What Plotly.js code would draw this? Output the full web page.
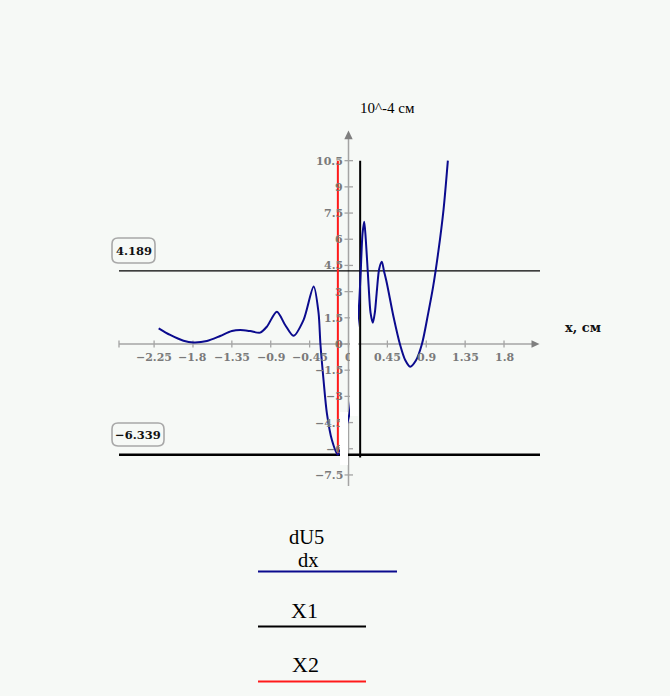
<!DOCTYPE html>
<html>
<head>
<meta charset="utf-8">
<script src="https://cdn.plot.ly/plotly-3.0.1.min.js"></script>
<style>html,body{margin:0;padding:0;background:#f6f9f6;}#chart{width:670px;height:696px;}</style>
</head>
<body>
<div id="chart"></div>
<script>
// ---- data ----
const curveX = [-2.197,-2.064,-1.91,-1.794,-1.639,-1.485,-1.35,-1.253,-1.138,-1.022,-0.944,-0.829,-0.733,-0.637,-0.521,-0.403,-0.347,-0.325,-0.289,-0.25,-0.192,-0.123,-0.09,-0.04,0.012,0.05,0.078,0.116,0.14,0.162,0.182,0.2,0.231,0.255,0.282,0.305,0.329,0.355,0.386,0.41,0.444,0.521,0.598,0.656,0.714,0.78,0.85,0.92,0.98,1.04,1.10,1.15];
const curveY = [0.90,0.52,0.19,0.09,0.17,0.46,0.74,0.80,0.74,0.65,1.0,1.85,1.09,0.47,1.37,3.30,1.8,0.0,-2.06,-3.97,-5.5,-6.339,-6.0,-5.0,-3.97,-2.06,0.0,1.76,4.0,6.3,7.0,6.0,3.48,1.8,1.22,1.8,3.09,4.3,4.71,4.2,3.48,1.56,-0.06,-0.92,-1.30,-0.95,0.0,1.7,3.3,5.3,7.7,10.5];
const x1X = [0.135, 0.135];
const x1Y = [-6.5, 10.5];
const x2X = [-0.123, -0.123];
const x2Y = [-6.339, 10.5];
const markerLevels = [4.189, -6.339];
const xTickVals = [-2.25,-1.8,-1.35,-0.9,-0.45,0,0.45,0.9,1.35,1.8];
const yTickVals = [-7.5,-6,-4.5,-3,-1.5,0,1.5,3,4.5,6,7.5,9,10.5];
const yAxisTitle = "10^-4 см";
const xAxisTitle = "x, см";
const legendNames = ["dU5", "dx", "X1", "X2"];

// ---- geometry ----
const L = 100, R = 560, T = 100, B = 500;
const x0px = 348.5, xScale = 86.4;   // px per unit
const y0px = 344, yScale = 17.46;
const xRange = [(L - x0px) / xScale, (R - x0px) / xScale];
const yRange = [(y0px - B) / yScale, (y0px - T) / yScale];
const dx = p => p / xScale, dy = p => p / yScale;
const px = x => (x - L) / (R - L);
const py = y => (B - y) / (B - T);
const fmt = v => (v < 0 ? "\u2212" : "") + Math.abs(v).toString();

const axisGray = "#a4a4a4", arrowGray = "#7f7f7f", labGray = "#7a7a7a";
const xAxStart = dx(119 - x0px), xAxEnd = dx(532 - x0px), xTip = dx(539.5 - x0px);
const yAxBot = dy(y0px - 486), yAxTop = dy(y0px - 139), yTip = dy(y0px - 130.5);
const hLineX = [dx(119 - x0px), dx(540 - x0px)];

const traces = [
  {x: hLineX, y: [markerLevels[0], markerLevels[0]], mode: "lines", line: {color: "#000", width: 1.2}, hoverinfo: "skip"},
  {x: hLineX, y: [markerLevels[1], markerLevels[1]], mode: "lines", line: {color: "#000", width: 2.4}, hoverinfo: "skip"},
  {x: x2X, y: x2Y, mode: "lines", name: "X2", line: {color: "#ff1a1a", width: 2}},
  {x: x1X, y: x1Y, mode: "lines", name: "X1", line: {color: "#000", width: 2}},
  {x: curveX, y: curveY, mode: "lines", name: "dU5/dx", line: {color: "#0b0b8e", width: 2, shape: "spline", smoothing: 0.8}}
];

const shapes = [];
// axes
shapes.push({type: "line", xref: "x", yref: "y", x0: xAxStart, x1: xAxEnd, y0: 0, y1: 0, line: {color: axisGray, width: 1.5}, layer: "below"});
shapes.push({type: "line", xref: "x", yref: "y", x0: 0, x1: 0, y0: yAxBot, y1: yAxTop, line: {color: axisGray, width: 1.5}, layer: "below"});
shapes.push({type: "path", xref: "x", yref: "y", path: `M ${xTip - dx(8)},${dy(3.8)} L ${xTip},0 L ${xTip - dx(8)},${-dy(3.8)} Z`, fillcolor: arrowGray, line: {width: 0}});
shapes.push({type: "path", xref: "x", yref: "y", path: `M ${-dx(4.2)},${yTip - dy(8.7)} L 0,${yTip} L ${dx(4.2)},${yTip - dy(8.7)} Z`, fillcolor: arrowGray, line: {width: 0}});
// ticks
[xAxStart].concat(xTickVals).forEach(v => shapes.push({type: "line", xref: "x", yref: "y", x0: v, x1: v, y0: -dy(3.5), y1: dy(3.5), line: {color: axisGray, width: 1.3}, layer: "below"}));
yTickVals.forEach(v => shapes.push({type: "line", xref: "x", yref: "y", x0: -dx(4), x1: dx(4.5), y0: v, y1: v, line: {color: axisGray, width: 1.3}, layer: "below"}));
// rounded boxes for marker values
function roundRect(x0, y0, x1, y1, r) {
  const a = px(x0), b = px(x1), c = py(y0), d = py(y1);
  const rx = r / (R - L), ry = r / (B - T);
  return `M ${a + rx},${c} L ${b - rx},${c} Q ${b},${c} ${b},${c - ry} L ${b},${d + ry} Q ${b},${d} ${b - rx},${d} L ${a + rx},${d} Q ${a},${d} ${a},${d + ry} L ${a},${c - ry} Q ${a},${c} ${a + rx},${c} Z`;
}
const boxes = [[112, 238, 155, 263], [112, 423, 164, 446]];
boxes.forEach(bx => shapes.push({type: "path", xref: "paper", yref: "paper", path: roundRect(bx[0], bx[1], bx[2], bx[3], 6), line: {color: "#a8a8a8", width: 1.6}, fillcolor: "rgba(0,0,0,0)"}));
// legend lines
shapes.push({type: "line", xref: "paper", yref: "paper", x0: px(258), x1: px(397), y0: py(571.5), y1: py(571.5), line: {color: "#0b0b8e", width: 2}});
shapes.push({type: "line", xref: "paper", yref: "paper", x0: px(258), x1: px(366), y0: py(626.5), y1: py(626.5), line: {color: "#000", width: 2}});
shapes.push({type: "line", xref: "paper", yref: "paper", x0: px(258), x1: px(366), y0: py(681.5), y1: py(681.5), line: {color: "#ff1a1a", width: 2}});

const ann = [];
const tickFont = {family: "DejaVu Serif", size: 11, color: labGray, weight: "bold"};
xTickVals.forEach(v => ann.push({xref: "x", yref: "y", x: v, y: 0, yshift: -13.5, text: fmt(v), showarrow: false, font: tickFont, xanchor: "center", yanchor: "middle"}));
yTickVals.forEach(v => ann.push({xref: "x", yref: "y", x: 0, y: v, xshift: -3.5, yshift: -0.5, text: fmt(v), showarrow: false, font: tickFont, xanchor: "right", yanchor: "middle"}));
// marker value labels
markerLevels.forEach((v, i) => {
  const bx = boxes[i];
  ann.push({xref: "paper", yref: "paper", x: px((bx[0] + bx[2]) / 2), y: py((bx[1] + bx[3]) / 2), text: fmt(v), showarrow: false, font: {family: "DejaVu Serif", size: 11.5, color: "#111", weight: "bold"}, xanchor: "center", yanchor: "middle"});
});
// axis titles
ann.push({xref: "paper", yref: "paper", x: px(387), y: py(107.5), text: yAxisTitle, showarrow: false, font: {family: "Liberation Serif", size: 15, color: "#000"}, xanchor: "center", yanchor: "middle"});
ann.push({xref: "paper", yref: "paper", x: px(582.5), y: py(327.5), text: xAxisTitle, showarrow: false, font: {family: "DejaVu Serif", size: 13, color: "#111", weight: "bold"}, xanchor: "center", yanchor: "middle"});
// legend texts
const legFont = {family: "Liberation Serif", size: 20.5, color: "#000"};
ann.push({xref: "paper", yref: "paper", x: px(306.5), y: py(536.5), text: legendNames[0], showarrow: false, font: legFont, xanchor: "center", yanchor: "middle"});
ann.push({xref: "paper", yref: "paper", x: px(308.3), y: py(559.5), text: legendNames[1], showarrow: false, font: legFont, xanchor: "center", yanchor: "middle"});
ann.push({xref: "paper", yref: "paper", x: px(304.2), y: py(610.5), text: legendNames[2], showarrow: false, font: {family: "Liberation Serif", size: 22, color: "#000"}, xanchor: "center", yanchor: "middle"});
ann.push({xref: "paper", yref: "paper", x: px(305.8), y: py(664), text: legendNames[3], showarrow: false, font: {family: "Liberation Serif", size: 22, color: "#000"}, xanchor: "center", yanchor: "middle"});
// white rendering patches seen in the reference
ann.push({xref: "x", yref: "y", x: dx(349.8 - x0px), y: dy(y0px - 300), xanchor: "left", yanchor: "top", width: 8, height: 116, text: " ", bgcolor: "#ffffff", borderpad: 0, borderwidth: 0, showarrow: false});
ann.push({xref: "x", yref: "y", x: dx(340 - x0px), y: dy(y0px - 412), xanchor: "left", yanchor: "top", width: 7.6, height: 53, text: " ", bgcolor: "#ffffff", borderpad: 0, borderwidth: 0, showarrow: false});

const layout = {
  width: 670, height: 696,
  margin: {l: L, r: 670 - R, t: T, b: 696 - B, pad: 0},
  paper_bgcolor: "#f6f9f6", plot_bgcolor: "#f6f9f6",
  showlegend: false,
  xaxis: {range: xRange, visible: false, fixedrange: true},
  yaxis: {range: yRange, visible: false, fixedrange: true},
  shapes: shapes,
  annotations: ann
};
Plotly.newPlot("chart", traces, layout, {displayModeBar: false, staticPlot: true});
</script>
</body>
</html>
